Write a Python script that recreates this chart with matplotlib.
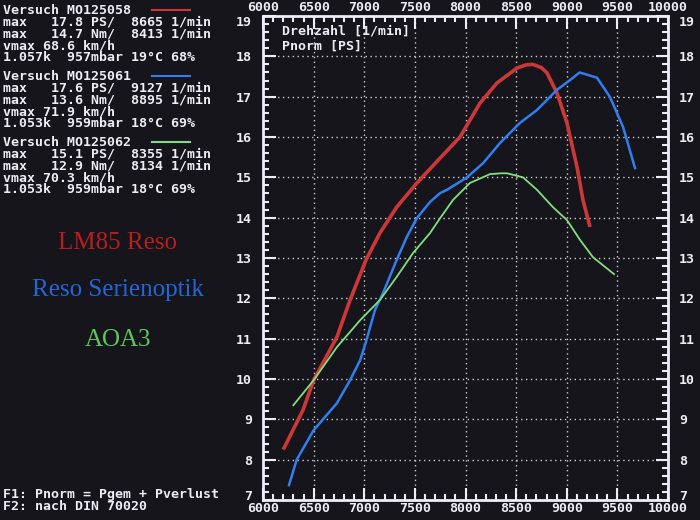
import matplotlib.pyplot as plt
import matplotlib.transforms as mtransforms
from matplotlib.lines import Line2D
from matplotlib.ticker import MultipleLocator

# Pnorm [PS] over Drehzahl [1/min]
red_rpm = [6200, 6395, 6500, 6730, 6860, 7017, 7155, 7320, 7520, 7750, 7946,
           8143, 8311, 8509, 8600, 8665, 8750, 8805, 8904, 9002, 9101, 9160, 9230]
red_ps = [8.25, 9.23, 9.97, 11.04, 11.96, 12.95, 13.62, 14.26, 14.86, 15.48, 16.0,
          16.84, 17.34, 17.71, 17.79, 17.8, 17.72, 17.59, 17.09, 16.35, 15.26, 14.44, 13.77]

blue_rpm = [6257, 6333, 6500, 6730, 6860, 6960, 7017, 7106, 7185, 7320, 7420, 7520,
            7650, 7750, 7817, 7946, 8015, 8173, 8341, 8538, 8706, 8904, 9032, 9127,
            9299, 9427, 9556, 9674]
blue_ps = [7.37, 8.0, 8.73, 9.4, 9.97, 10.47, 10.92, 11.71, 12.13, 12.95, 13.52, 13.99,
           14.39, 14.61, 14.69, 14.89, 15.0, 15.35, 15.85, 16.35, 16.67, 17.17, 17.41, 17.6,
           17.47, 16.99, 16.25, 15.23]

green_rpm = [6300, 6500, 6730, 6960, 7155, 7320, 7481, 7650, 7750, 7877, 8044, 8242,
             8355, 8410, 8568, 8706, 8864, 9002, 9131, 9259, 9467]
green_ps = [9.35, 9.97, 10.79, 11.46, 11.96, 12.53, 13.12, 13.62, 13.99, 14.44, 14.86, 15.08,
            15.1, 15.1, 15.0, 14.69, 14.26, 13.94, 13.45, 13.02, 12.6]

runs = ["MO125058", "MO125061", "MO125062"]
max_ps = ["17.8", "17.6", "15.1"]
max_ps_rpm = ["8665", "9127", "8355"]
max_nm = ["14.7", "13.6", "12.9"]
max_nm_rpm = ["8413", "8895", "8134"]
vmax = ["68.6", "71.9", "70.3"]
cond = ["1.057k  957mbar 19°C 68%", "1.053k  959mbar 18°C 69%", "1.053k  959mbar 18°C 69%"]
names = ["LM85 Reso", "Reso Serienoptik", "AOA3"]

bg = '#16151b'
fg = '#eeecf6'
line_cols = ['#cc3838', '#2f7ff0', '#80e080']
name_cols = ['#b81e1e', '#2266d8', '#5cc85c']
mono = 'DejaVu Sans Mono'

W, H = 700, 520
fig = plt.figure(figsize=(7, 5.2), dpi=100, facecolor=bg)

def fx(px):
    return px / W

def fy(py):
    return 1 - py / H

ax = fig.add_axes([fx(263), fy(500), fx(668) - fx(263), fy(16) - fy(500)])
ax.set_facecolor(bg)

ax.plot(red_rpm, red_ps, color=line_cols[0], lw=2.6, solid_capstyle='butt')
ax.plot(blue_rpm, blue_ps, color=line_cols[1], lw=1.8)
ax.plot(green_rpm, green_ps, color=line_cols[2], lw=1.3)

ax.set_xlim(6000, 10000)
ax.set_ylim(7, 19)
ax.xaxis.set_major_locator(MultipleLocator(500))
ax.xaxis.set_minor_locator(MultipleLocator(100))
ax.yaxis.set_major_locator(MultipleLocator(1))
ax.yaxis.set_minor_locator(MultipleLocator(0.2))
ax.grid(True, which='major', color=fg, linestyle=(0, (1, 2.5)), lw=1.0, alpha=0.85)

ax.tick_params(which='both', direction='in', colors=fg, top=True, right=True,
               labeltop=True, labelright=True, width=1.5)
ax.tick_params(which='major', length=9)
ax.tick_params(which='minor', length=4.5)
ax.tick_params(axis='x', which='major', pad=1.5)
ax.tick_params(axis='y', which='major', pad=8)
for lab in ax.get_xticklabels() + ax.get_yticklabels():
    lab.set_fontfamily(mono)
    lab.set_fontweight('bold')
    lab.set_fontsize(9.5)
    lab.set_color(fg)
for sp in ax.spines.values():
    sp.set_color(fg)
    sp.set_linewidth(2)

# corner labels sit a bit off their ticks on the screen, keep them clear of the rpm labels
fig.canvas.draw()
down = mtransforms.ScaledTranslation(0, -5 / 100, fig.dpi_scale_trans)
up = mtransforms.ScaledTranslation(0, 5 / 100, fig.dpi_scale_trans)
for tick in ax.yaxis.get_major_ticks():
    v = tick.get_loc()
    if abs(v - 19) < 1e-6:
        for lab in (tick.label1, tick.label2):
            lab.set_transform(lab.get_transform() + down)
    elif abs(v - 7) < 1e-6:
        for lab in (tick.label1, tick.label2):
            lab.set_transform(lab.get_transform() + up)

ax.text(0.047, 0.97, "Drehzahl [1/min]", transform=ax.transAxes, family=mono,
        weight='bold', fontsize=9.5, color=fg, va='center')
ax.text(0.047, 0.938, "Pnorm [PS]", transform=ax.transAxes, family=mono,
        weight='bold', fontsize=9.5, color=fg, va='center')

# run summary blocks on the left, one multi-line text per run
block_top = [9, 75, 141]
for i in range(3):
    y0 = block_top[i]
    lines = ["Versuch " + runs[i],
             "max   %s PS/  %s 1/min" % (max_ps[i], max_ps_rpm[i]),
             "max   %s Nm/  %s 1/min" % (max_nm[i], max_nm_rpm[i]),
             "vmax %s km/h" % vmax[i],
             cond[i]]
    fig.text(fx(3), fy(y0 - 5), "\n".join(lines), family=mono, weight='bold',
             fontsize=9.5, color=fg, va='top', linespacing=0.87)
    fig.add_artist(Line2D([fx(152), fx(190)], [fy(y0 + 1), fy(y0 + 1)],
                          color=line_cols[i], lw=1.5))

name_y = [243, 290, 340]
for i in range(3):
    fig.text(fx(118), fy(name_y[i]), names[i], family='Liberation Serif',
             fontsize=18, color=name_cols[i], ha='center', va='center')

fig.text(fx(3), fy(488), "F1: Pnorm = Pgem + Pverlust\nF2: nach DIN 70020", family=mono,
         weight='bold', fontsize=9.5, color=fg, va='top', linespacing=0.87)

fig.savefig('out.png', dpi=100, facecolor=bg)
